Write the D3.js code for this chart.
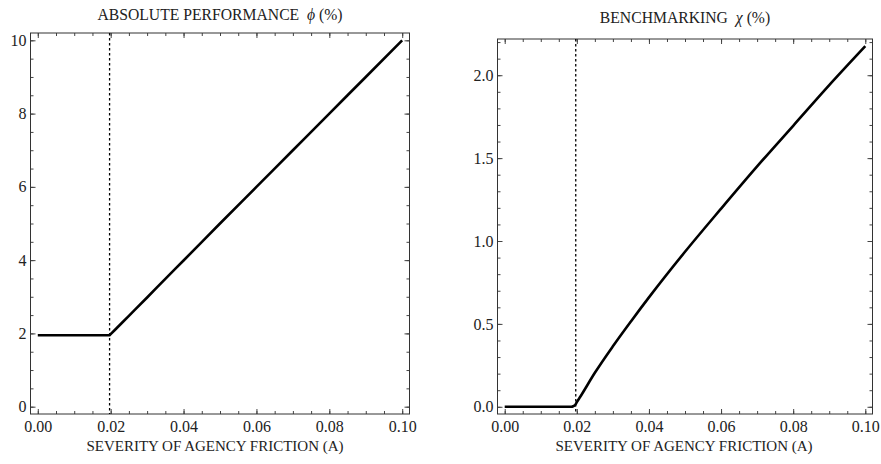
<!DOCTYPE html>
<html>
<head>
<meta charset="utf-8">
<script src="https://cdn.jsdelivr.net/npm/d3@7"></script>
<style>
  body { margin: 0; background: #fff; }
  svg text { font-family: "Liberation Serif", "DejaVu Serif", serif; fill: #222; }
  .title { white-space: pre; }
</style>
</head>
<body>
<svg id="chart" width="881" height="464"></svg>
<script>
// data
var friction = [0, 0.0185, 0.019, 0.0195, 0.0197, 0.02, 0.021, 0.025, 0.03, 0.035, 0.04, 0.05, 0.06, 0.07, 0.08, 0.09, 0.1];
var absPerf = [1.95, 1.95, 1.95, 1.95, 1.95, 1.98, 2.08, 2.48, 2.98, 3.49, 3.99, 5.0, 6.0, 7.0, 8.0, 9.0, 10.0];
var benchmark = [0, 0, 0.003, 0.01, 0.016, 0.028, 0.062, 0.205, 0.365, 0.515, 0.66, 0.935, 1.195, 1.45, 1.695, 1.94, 2.175];
var threshold = 0.0197;
var xTicks = [0, 0.02, 0.04, 0.06, 0.08, 0.1];
var absTicks = [0, 2, 4, 6, 8, 10];
var benchTicks = [0, 0.5, 1.0, 1.5, 2.0];

var svg = d3.select("#chart");

var panels = [
  { title: "ABSOLUTE PERFORMANCE", sym: "\u03d5", values: absPerf, yTicks: absTicks,
    yFmt: d3.format("d"), yMinor: 0.5, yDom: [-0.2, 10.2],
    left: 30.5, right: 409.5, top: 33, bottom: 414, titleY: 19.5, labelShift: -5 },
  { title: "BENCHMARKING", sym: "\u03c7", values: benchmark, yTicks: benchTicks,
    yFmt: d3.format(".1f"), yMinor: 0.1, yDom: [-0.0435, 2.2185],
    left: 497.5, right: 872.5, top: 39, bottom: 414, titleY: 23, labelShift: -1 }
];

panels.forEach(function(p) {
  var x = d3.scaleLinear().domain([-0.002, 0.102]).range([p.left, p.right]);
  var y = d3.scaleLinear().domain(p.yDom).range([p.bottom, p.top]);
  var g = svg.append("g");

  var xMinor = d3.range(0, 0.1001, 0.005);
  var yMinor = d3.range(0, p.yDom[1], p.yMinor);

  // minor ticks, all four sides
  var minor = function(axis, ticks) { return axis.tickValues(ticks).tickFormat("").tickSize(-3); };
  g.append("g").attr("transform", "translate(0," + p.bottom + ")").call(minor(d3.axisBottom(x), xMinor));
  g.append("g").attr("transform", "translate(0," + p.top + ")").call(minor(d3.axisTop(x), xMinor));
  g.append("g").attr("transform", "translate(" + p.left + ",0)").call(minor(d3.axisLeft(y), yMinor));
  g.append("g").attr("transform", "translate(" + p.right + ",0)").call(minor(d3.axisRight(y), yMinor));

  // major ticks
  g.append("g").attr("class", "xa").attr("transform", "translate(0," + p.bottom + ")")
    .call(d3.axisBottom(x).tickValues(xTicks).tickFormat(d3.format(".2f")).tickSize(-5).tickPadding(7));
  g.append("g").attr("transform", "translate(0," + p.top + ")")
    .call(d3.axisTop(x).tickValues(xTicks).tickFormat("").tickSize(-5));
  g.append("g").attr("class", "ya").attr("transform", "translate(" + p.left + ",0)")
    .call(d3.axisLeft(y).tickValues(p.yTicks).tickFormat(p.yFmt).tickSize(-5).tickPadding(4));
  g.append("g").attr("transform", "translate(" + p.right + ",0)")
    .call(d3.axisRight(y).tickValues(p.yTicks).tickFormat("").tickSize(-5));

  g.selectAll(".domain").remove();
  g.selectAll(".tick line").attr("stroke", "#444");
  g.selectAll(".tick text").attr("font-size", 16).attr("font-family", "Liberation Serif").attr("fill", "#222");

  // frame
  g.append("rect")
    .attr("x", p.left).attr("y", p.top)
    .attr("width", p.right - p.left).attr("height", p.bottom - p.top)
    .attr("fill", "none").attr("stroke", "#333").attr("stroke-width", 1);

  // threshold line
  g.append("line")
    .attr("x1", x(threshold)).attr("x2", x(threshold))
    .attr("y1", p.top).attr("y2", p.bottom)
    .attr("stroke", "#000").attr("stroke-width", 1.3).attr("stroke-dasharray", "2.5,2.5");

  var line = d3.line()
    .x(function(d, i) { return x(friction[i]); })
    .y(function(d) { return y(d); })
    .curve(d3.curveMonotoneX);

  g.append("path")
    .attr("d", line(p.values))
    .attr("fill", "none").attr("stroke", "#000").attr("stroke-width", 2.6);

  var cx = (p.left + p.right) / 2;
  var t = g.append("text").attr("class", "title").attr("x", cx).attr("y", p.titleY)
    .attr("text-anchor", "middle").attr("font-size", 15.7);
  t.append("tspan").text(p.title + "  ");
  t.append("tspan").attr("font-style", "italic").text(p.sym);
  t.append("tspan").text(" (%)");

  g.append("text").attr("x", cx + p.labelShift).attr("y", 450.5)
    .attr("text-anchor", "middle").attr("font-size", 15)
    .text("SEVERITY OF AGENCY FRICTION (A)");
});
</script>
</body>
</html>
